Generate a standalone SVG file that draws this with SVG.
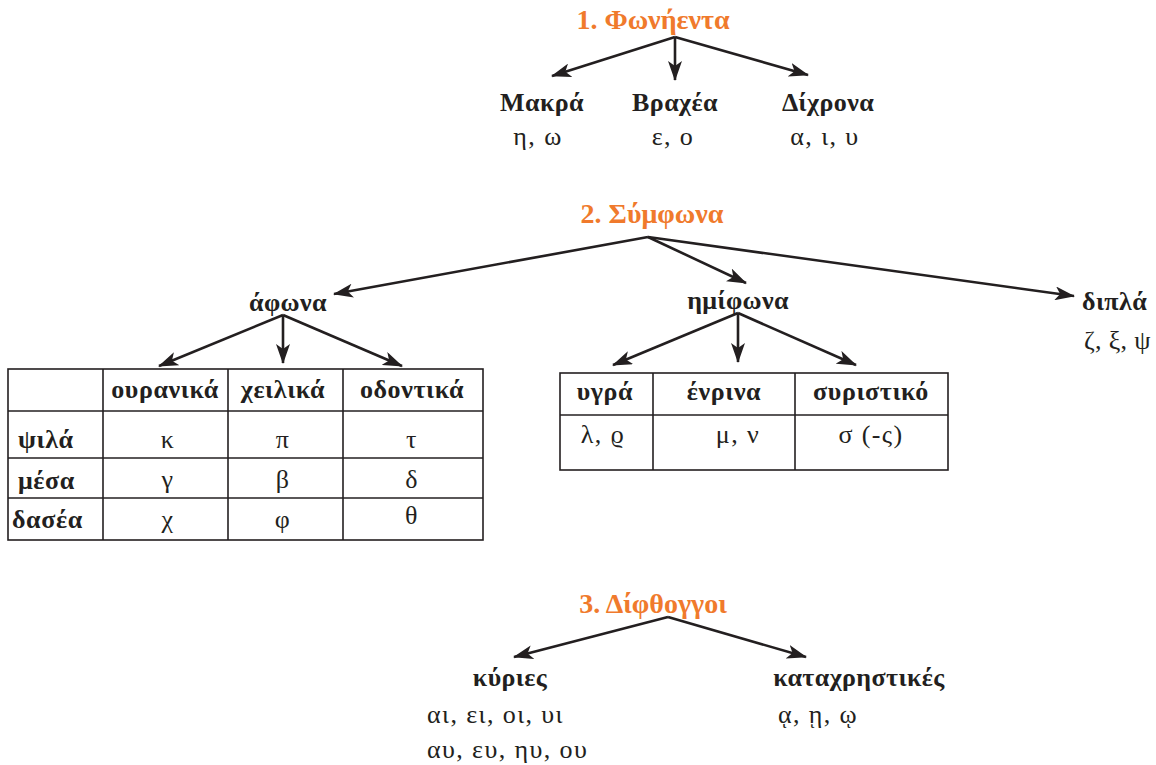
<svg xmlns="http://www.w3.org/2000/svg" width="1156" height="765" viewBox="0 0 1156 765">
  <style>
    text { font-family: "Liberation Serif", "DejaVu Serif", serif; fill: #231f20; }
    .title { font-size: 28px; font-weight: bold; fill: #f07a2c; text-anchor: middle; }
    .head { font-size: 26px; font-weight: bold; text-anchor: middle; letter-spacing: 0.4px; }
    .val { font-size: 26px; letter-spacing: 1.4px; }
    .mid { text-anchor: middle; }
    .lhead { font-size: 26px; font-weight: bold; letter-spacing: 0.6px; }
    .arrow { stroke: #231f20; stroke-width: 2.6; fill: none; marker-end: url(#ah); }
    .grid { stroke: #231f20; stroke-width: 1.6; fill: none; }
  </style>
  <defs>
    <marker id="ah" markerUnits="userSpaceOnUse" markerWidth="22" markerHeight="14" refX="19" refY="7" orient="auto">
      <path d="M0,0 L20,7 L0,14 L5,7 z" fill="#231f20"/>
    </marker>
  </defs>

  <!-- connectors -->
  <g id="connectors">
    <line class="arrow" x1="675" y1="37" x2="552" y2="76"/>
    <line class="arrow" x1="675" y1="37" x2="675" y2="80"/>
    <line class="arrow" x1="675" y1="37" x2="808" y2="75"/>

    <line class="arrow" x1="648" y1="237" x2="334" y2="294"/>
    <line class="arrow" x1="648" y1="237" x2="746" y2="283"/>
    <line class="arrow" x1="648" y1="237" x2="1074" y2="296"/>

    <line class="arrow" x1="283" y1="315" x2="159" y2="366"/>
    <line class="arrow" x1="283" y1="315" x2="283" y2="363"/>
    <line class="arrow" x1="283" y1="315" x2="402" y2="366"/>

    <line class="arrow" x1="738" y1="313" x2="613" y2="365"/>
    <line class="arrow" x1="738" y1="313" x2="738" y2="362"/>
    <line class="arrow" x1="738" y1="313" x2="856" y2="365"/>

    <line class="arrow" x1="668" y1="617" x2="514" y2="657"/>
    <line class="arrow" x1="668" y1="617" x2="806" y2="657"/>
  </g>

  <!-- 1. vowels -->
  <g id="node-vowels"><text class="title" x="653" y="29">1. Φωνήεντα</text></g>
  <g id="node-long">
    <text class="head" x="542" y="111">Μακρά</text>
    <text class="val mid" x="538" y="145">η, ω</text>
  </g>
  <g id="node-short">
    <text class="head" x="675" y="111">Βραχέα</text>
    <text class="val mid" x="673" y="145">ε, ο</text>
  </g>
  <g id="node-dichrona">
    <text class="head" x="828" y="111">Δίχρονα</text>
    <text class="val mid" x="825" y="145">α, ι, υ</text>
  </g>

  <!-- 2. consonants -->
  <g id="node-consonants"><text class="title" x="652" y="223">2. Σύμφωνα</text></g>
  <g id="node-afona"><text class="head" x="288" y="311">άφωνα</text></g>
  <g id="node-imifona"><text class="head" x="738" y="309">ημίφωνα</text></g>
  <g id="node-dipla">
    <text class="head" x="1082" y="310" style="text-anchor:start">διπλά</text>
    <text class="val" x="1084" y="349" style="letter-spacing:0.3px">ζ, ξ, ψ</text>
  </g>

  <!-- stops table -->
  <g id="table-afona">
    <rect class="grid" x="8" y="369" width="475" height="171"/>
    <line class="grid" x1="103" y1="369" x2="103" y2="540"/>
    <line class="grid" x1="228" y1="369" x2="228" y2="540"/>
    <line class="grid" x1="343" y1="369" x2="343" y2="540"/>
    <line class="grid" x1="8" y1="411" x2="483" y2="411"/>
    <line class="grid" x1="8" y1="458" x2="483" y2="458"/>
    <line class="grid" x1="8" y1="498" x2="483" y2="498"/>

    <text class="lhead mid" x="165" y="398">ουρανικά</text>
    <text class="lhead mid" x="283" y="398">χειλικά</text>
    <text class="lhead mid" x="412" y="398">οδοντικά</text>

    <text class="lhead" x="18" y="448">ψιλά</text>
    <text class="lhead" x="18" y="489">μέσα</text>
    <text class="lhead" x="12" y="528">δασέα</text>

    <text class="val mid" x="168" y="448">κ</text>
    <text class="val mid" x="283" y="448">π</text>
    <text class="val mid" x="412" y="448">τ</text>
    <text class="val mid" x="168" y="488">γ</text>
    <text class="val mid" x="283" y="488">β</text>
    <text class="val mid" x="412" y="488">δ</text>
    <text class="val mid" x="168" y="528">χ</text>
    <text class="val mid" x="283" y="528">φ</text>
    <text class="val mid" x="412" y="524">θ</text>
  </g>

  <!-- semivowels table -->
  <g id="table-imifona">
    <rect class="grid" x="560" y="373" width="388" height="97"/>
    <line class="grid" x1="653" y1="373" x2="653" y2="470"/>
    <line class="grid" x1="795" y1="373" x2="795" y2="470"/>
    <line class="grid" x1="560" y1="415" x2="948" y2="415"/>

    <text class="lhead mid" x="605" y="400">υγρά</text>
    <text class="lhead mid" x="724" y="400">ένρινα</text>
    <text class="lhead mid" x="871" y="400">συριστικό</text>

    <text class="val mid" x="603" y="443">λ, ϱ</text>
    <text class="val mid" x="738" y="443">μ, ν</text>
    <text class="val mid" x="871" y="443">σ (-ς)</text>
  </g>

  <!-- 3. diphthongs -->
  <g id="node-diphthongs"><text class="title" x="653" y="613">3. Δίφθογγοι</text></g>
  <g id="node-kyries">
    <text class="head" x="510" y="686">κύριες</text>
    <text class="val" x="427" y="723">αι, ει, οι, υι</text>
    <text class="val" x="427" y="758">αυ, ευ, ηυ, ου</text>
  </g>
  <g id="node-katachrestikes">
    <text class="head" x="859" y="686">καταχρηστικές</text>
    <text class="val" x="778" y="723">ᾳ, ῃ, ῳ</text>
  </g>
</svg>
